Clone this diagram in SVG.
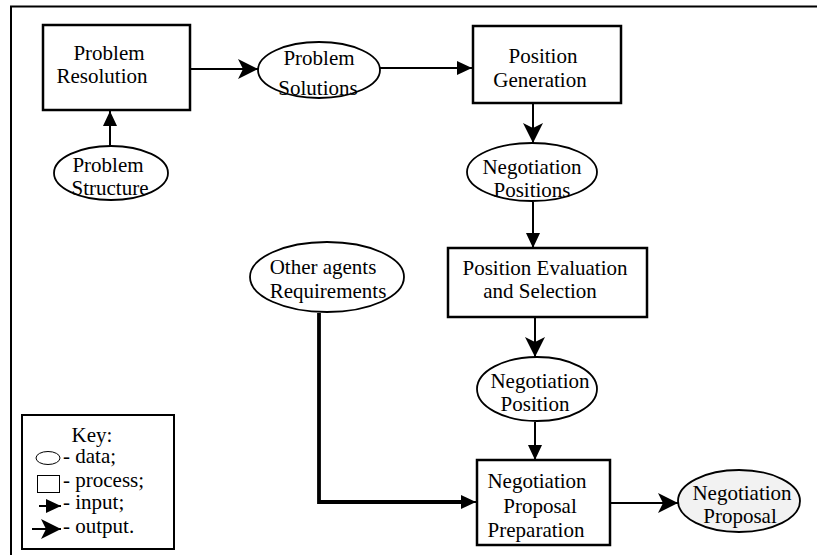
<svg xmlns="http://www.w3.org/2000/svg" width="817" height="555" viewBox="0 0 817 555">
<defs>
<style>
text{font-family:'Liberation Serif','DejaVu Serif','Times New Roman',serif;font-size:21px;fill:#000;text-anchor:middle}
.k{text-anchor:start}
.box{fill:#fff;stroke:#000;stroke-width:2.5}
.ell{fill:#fff;stroke:#000;stroke-width:1.8}
.ln{fill:none;stroke:#000;stroke-width:2}
.thick{fill:none;stroke:#000;stroke-width:3.8}
</style>
<marker id="in" markerUnits="userSpaceOnUse" markerWidth="15" markerHeight="14" refX="15" refY="7" orient="auto">
<path d="M0,0 L15,7 L0,14 z" fill="#000"/>
</marker>
<marker id="out" markerUnits="userSpaceOnUse" markerWidth="20" markerHeight="20" refX="20" refY="10" orient="auto">
<path d="M0,0 L20,10 L0,20 L5,10 z" fill="#000"/>
</marker>
</defs>
<rect x="11" y="6.5" width="820" height="560" fill="#fff" stroke="#000" stroke-width="2"/>

<g id="connectors">
<line class="ln" x1="190" y1="69" x2="258" y2="69" marker-end="url(#out)"/>
<line class="ln" x1="110" y1="147" x2="110" y2="111" marker-end="url(#in)"/>
<line class="ln" x1="380" y1="68" x2="472" y2="68" marker-end="url(#in)"/>
<line class="ln" x1="533" y1="103" x2="533" y2="143" marker-end="url(#out)"/>
<line class="ln" x1="533" y1="202" x2="533" y2="248" marker-end="url(#in)"/>
<line class="ln" x1="535" y1="317" x2="535" y2="357" marker-end="url(#out)"/>
<line class="ln" x1="535" y1="422" x2="535" y2="460" marker-end="url(#in)"/>
<line class="ln" x1="610" y1="503" x2="678" y2="503" marker-end="url(#out)"/>
<path class="thick" d="M319,313 V502 H462"/>
<line class="ln" x1="460" y1="502" x2="476" y2="502" marker-end="url(#in)"/>
</g>

<g id="problem-resolution">
<rect class="box" x="43" y="25" width="147" height="85"/>
<text x="109" y="60" font-family="Liberation Serif, serif">Problem</text>
<text x="102" y="83" font-family="Liberation Serif, serif">Resolution</text>
</g>
<g id="problem-solutions">
<ellipse class="ell" cx="319" cy="70" rx="61" ry="28"/>
<text x="319" y="65">Problem</text>
<text x="318" y="95">Solutions</text>
</g>
<g id="problem-structure">
<ellipse class="ell" cx="111" cy="173" rx="57" ry="27"/>
<text x="108" y="172">Problem</text>
<text x="110" y="195">Structure</text>
</g>
<g id="position-generation">
<rect class="box" x="473" y="26" width="148" height="77"/>
<text x="543" y="63">Position</text>
<text x="540" y="87">Generation</text>
</g>
<g id="negotiation-positions">
<ellipse class="ell" cx="532" cy="172" rx="65" ry="29"/>
<text x="532" y="174">Negotiation</text>
<text x="532" y="197">Positions</text>
</g>
<g id="other-agents-requirements">
<ellipse class="ell" cx="327" cy="277" rx="77" ry="35"/>
<text x="323" y="274">Other agents</text>
<text x="328" y="298">Requirements</text>
</g>
<g id="position-evaluation">
<rect class="box" x="448" y="248" width="199" height="69"/>
<text x="545" y="275">Position Evaluation</text>
<text x="540" y="298">and Selection</text>
</g>
<g id="negotiation-position">
<ellipse class="ell" cx="537" cy="389" rx="60" ry="32"/>
<text x="540" y="388">Negotiation</text>
<text x="535" y="411">Position</text>
</g>
<g id="negotiation-proposal-preparation">
<rect class="box" x="477" y="460" width="133" height="85"/>
<text x="537" y="488">Negotiation</text>
<text x="540" y="513">Proposal</text>
<text x="536" y="537">Preparation</text>
</g>
<g id="negotiation-proposal">
<ellipse class="ell" cx="739" cy="501" rx="61" ry="31" style="fill:#f2f2f2"/>
<text x="742" y="500">Negotiation</text>
<text x="740" y="523">Proposal</text>
</g>

<g id="key">
<rect x="22" y="415" width="152" height="134" fill="#fff" stroke="#000" stroke-width="2"/>
<text x="92" y="442">Key:</text>
<ellipse cx="48" cy="458" rx="12" ry="6.5" fill="#fff" stroke="#000" stroke-width="1"/>
<text class="k" x="63" y="463">- data;</text>
<rect x="37.5" y="475.5" width="22" height="17" fill="#fff" stroke="#000" stroke-width="1"/>
<text class="k" x="63" y="487">- process;</text>
<line class="ln" x1="39" y1="506" x2="61" y2="506" marker-end="url(#in)"/>
<text class="k" x="63" y="509">- input;</text>
<line class="ln" x1="32" y1="529" x2="61" y2="529" marker-end="url(#out)"/>
<text class="k" x="63" y="533">- output.</text>
</g>
</svg>
